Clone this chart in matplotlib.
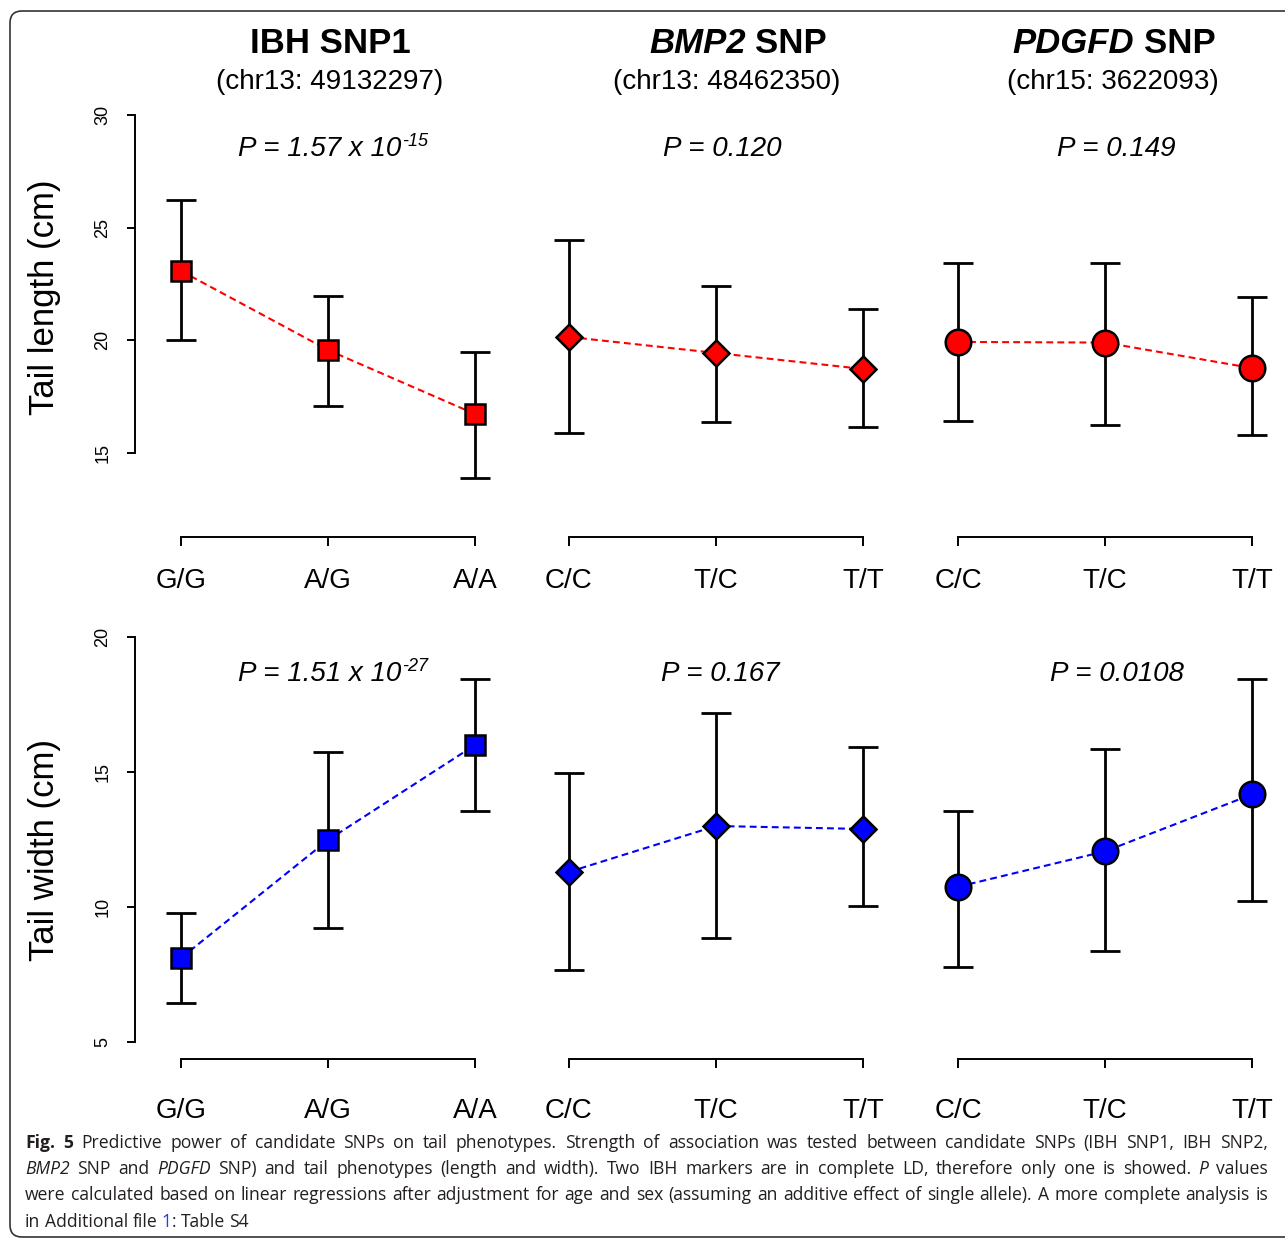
import re
import matplotlib
matplotlib.use("Agg")
import matplotlib.pyplot as plt
from matplotlib.transforms import IdentityTransform
from matplotlib.patches import FancyBboxPatch
from matplotlib import font_manager

W, H = 1285, 1240
plt.rcParams["font.family"] = ["Liberation Sans", "DejaVu Sans"]

# ---- data ----
genotypes = [["G/G", "A/G", "A/A"], ["C/C", "T/C", "T/T"], ["C/C", "T/C", "T/T"]]
gene_part = ["", "BMP2", "PDGFD"]
snp_part = ["IBH SNP1", "SNP", "SNP"]
snp_pos = ["(chr13: 49132297)", "(chr13: 48462350)", "(chr15: 3622093)"]
markers = ["s", "D", "o"]

length_mean = [[23.08, 19.57, 16.73], [20.15, 19.44, 18.73], [19.93, 19.90, 18.77]]
length_lo = [[20.00, 17.08, 13.89], [15.89, 16.37, 16.15], [16.42, 16.24, 15.80]]
length_hi = [[26.23, 21.97, 19.48], [24.45, 22.41, 21.39], [23.43, 23.43, 21.92]]

width_mean = [[8.11, 12.48, 16.00], [11.30, 13.00, 12.89], [10.75, 12.06, 14.17]]
width_lo = [[6.44, 9.22, 13.56], [7.67, 8.85, 10.04], [7.78, 8.37, 10.22]]
width_hi = [[9.78, 15.74, 18.44], [14.96, 17.19, 15.93], [13.56, 15.86, 18.46]]

p_length = [("1.57", "-15"), ("0.120", ""), ("0.149", "")]
p_width = [("1.51", "-27"), ("0.167", ""), ("0.0108", "")]

caption_lines = [
    "*Fig. 5* Predictive power of candidate SNPs on tail phenotypes. Strength of association was tested between candidate SNPs (IBH SNP1, IBH SNP2,",
    "_BMP2_ SNP and _PDGFD_ SNP) and tail phenotypes (length and width). Two IBH markers are in complete LD, therefore only one is showed. _P_ values",
    "were calculated based on linear regressions after adjustment for age and sex (assuming an additive effect of single allele). A more complete analysis is",
    "in Additional file ^1^: Table S4",
]

fig = plt.figure(figsize=(W / 100, H / 100), dpi=100)
renderer = fig.canvas.get_renderer()
ident = IdentityTransform()


def text_w(s, **kw):
    t = fig.text(0, 0, s, transform=ident, **kw)
    w = t.get_window_extent(renderer).width
    t.remove()
    return w


def space_w(**kw):
    return text_w("n n", **kw) - text_w("nn", **kw)


def rich(x, y, runs, ha="center"):
    # runs: (text, props, dy, gap_after)
    widths = [text_w(s, **p) for s, p, dy, g in runs]
    gaps = [space_w(**p) if g else 0 for s, p, dy, g in runs]
    total = sum(widths) + sum(gaps)
    x0 = x - total / 2 if ha == "center" else x
    for (s, p, dy, g), w, gw in zip(runs, widths, gaps):
        fig.text(x0, H - y + dy, s, transform=ident, ha="left", va="baseline", **p)
        x0 += w + gw


# ---- panels ----
tick1 = [181, 569, 958]
unit = 147
rows = [
    dict(top=115, bottom=537, ymax=30, ppu=338 / 15, yticks=[15, 20, 25, 30],
         mean=length_mean, lo=length_lo, hi=length_hi, color="#ff0000", pad=15.8),
    dict(top=637, bottom=1059, ymax=20, ppu=27, yticks=[5, 10, 15, 20],
         mean=width_mean, lo=width_lo, hi=width_hi, color="#0000ff", pad=21.6),
]
msize = {"s": 14, "D": 13.5, "o": 18.4}

for r in rows:
    ymin = r["ymax"] - (r["bottom"] - r["top"]) / r["ppu"]
    for c in range(3):
        left = tick1[c] - 46
        right = tick1[c] + 2 * unit + 30
        ax = fig.add_axes([left / W, 1 - r["bottom"] / H, (right - left) / W,
                           (r["bottom"] - r["top"]) / H])
        ax.set_xlim(1 - 46 / unit, 3 + 30 / unit)
        ax.set_ylim(ymin, r["ymax"])
        ax.patch.set_visible(False)
        x = [1, 2, 3]
        m = r["mean"][c]
        yerr = [[m[i] - r["lo"][c][i] for i in range(3)],
                [r["hi"][c][i] - m[i] for i in range(3)]]
        ax.errorbar(x, m, yerr=yerr, fmt="none", ecolor="black", elinewidth=2,
                    capsize=10.5, capthick=2, zorder=2)
        ax.plot(x, m, ls=(0, (3.3, 2)), color=r["color"], lw=1.5, zorder=3)
        ax.plot(x, m, ls="none", marker=markers[c], ms=msize[markers[c]],
                mfc=r["color"], mec="black", mew=1.8, zorder=4)
        for s in ["top", "right"]:
            ax.spines[s].set_visible(False)
        ax.spines["bottom"].set_bounds(1, 3)
        ax.spines["bottom"].set_linewidth(1.4)
        ax.set_xticks(x)
        ax.set_xticklabels(genotypes[c])
        ax.tick_params(axis="x", length=6.5, width=1.4, labelsize=20, pad=r["pad"])
        if c == 0:
            ax.spines["left"].set_bounds(r["yticks"][0], r["yticks"][-1])
            ax.spines["left"].set_linewidth(1.4)
            ax.set_yticks(r["yticks"])
            ax.set_yticklabels([str(v) for v in r["yticks"]], rotation=90, va="center")
            ax.tick_params(axis="y", length=6, width=1.4, labelsize=13, pad=11)
        else:
            ax.spines["left"].set_visible(False)
            ax.tick_params(axis="y", left=False, labelleft=False)

# ---- y labels ----
fig.text(45 / W, 1 - 297 / H, "Tail length (cm)", rotation=90, ha="center", va="center", fontsize=25)
fig.text(45 / W, 1 - 850 / H, "Tail width (cm)", rotation=90, ha="center", va="center", fontsize=25)

# ---- titles ----
title_x = [330, 738, 1114]
pos_x = [330, 727, 1113]
for c in range(3):
    runs = []
    if gene_part[c]:
        runs.append((gene_part[c], dict(fontsize=25, fontweight="bold", fontstyle="italic"), 0, True))
    runs.append((snp_part[c], dict(fontsize=25, fontweight="bold"), 0, False))
    rich(title_x[c], 53, runs)
    fig.text(pos_x[c], H - 89, snp_pos[c], transform=ident, ha="center", va="baseline", fontsize=20)

# ---- P values ----
p_x = [[333, 722, 1116], [333, 720, 1117]]
p_y = [156, 681]
for k, pv in enumerate([p_length, p_width]):
    for c in range(3):
        val, ex = pv[c]
        runs = [("P = " + val + (" x 10" if ex else ""), dict(fontsize=20, fontstyle="italic"), 0, False)]
        if ex:
            runs.append((ex, dict(fontsize=13, fontstyle="italic"), 10, False))
        rich(p_x[k][c], p_y[k], runs)

# ---- caption ----
try:
    font_manager.findfont(font_manager.FontProperties(family="Liberation Sans Narrow"),
                          fallback_to_default=False)
    cap_family = "Liberation Sans Narrow"
except Exception:
    cap_family = "Open Sans"

STY = {"r": {}, "b": {"fontweight": "bold"}, "i": {"fontstyle": "italic"},
       "l": {"color": "#2b3fd6"}}


def parse_words(line):
    runs = []
    for mt in re.finditer(r"\*([^*]+)\*|_([^_]+)_|\^([^^]+)\^|([^*_^]+)", line):
        for key, g in zip("bilr", mt.groups()):
            if g:
                runs.append((g, key))
    words, cur = [], []
    for txt, key in runs:
        for k, part in enumerate(txt.split(" ")):
            if k > 0 and cur:
                words.append(cur)
                cur = []
            if part:
                cur.append((part, key))
    if cur:
        words.append(cur)
    return words


cap_left, cap_right = 25, 1268
cap_base = [1148, 1174, 1200, 1227]
cap_color = "#231f20"
parsed = [parse_words(l) for l in caption_lines]


def word_widths(words, size):
    out = []
    for wd in words:
        out.append([text_w(s, fontsize=size, family=cap_family, **STY[k]) for s, k in wd])
    return out


base_size = 15
sp0 = space_w(fontsize=base_size, family=cap_family)
natural = []
for words in parsed[:3]:
    ww = word_widths(words, base_size)
    natural.append(sum(sum(w) for w in ww) + sp0 * (len(words) - 1))
cap_size = base_size * (cap_right - cap_left) / max(natural) * 0.985

sp = space_w(fontsize=cap_size, family=cap_family)
for li, words in enumerate(parsed):
    ww = word_widths(words, cap_size)
    tot = sum(sum(w) for w in ww)
    if li < 3:
        gap = (cap_right - cap_left - tot) / (len(words) - 1)
    else:
        gap = sp
    x0 = cap_left
    for wd, wl in zip(words, ww):
        for (s, k), w in zip(wd, wl):
            props = dict(color=cap_color)
            props.update(STY[k])
            fig.text(x0, H - cap_base[li], s, transform=ident, ha="left", va="baseline",
                     fontsize=cap_size, family=cap_family, **props)
            x0 += w
        x0 += gap

# ---- frame ----
frame = FancyBboxPatch((10, H - 1237), 1300, 1237 - 11, boxstyle="round,pad=0,rounding_size=12",
                       transform=ident, fill=False, ec="#333333", lw=1.2)
fig.add_artist(frame)

fig.savefig("out.png", dpi=100)
